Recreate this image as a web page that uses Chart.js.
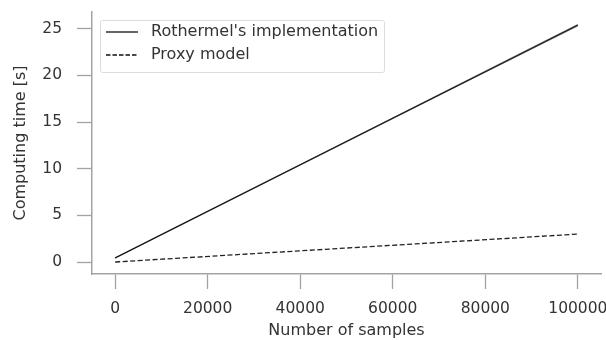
<!DOCTYPE html>
<html>
<head>
<meta charset="utf-8">
<script src="https://cdn.jsdelivr.net/npm/chart.js@4.4.1/dist/chart.umd.min.js"></script>
<style>
  html, body { margin: 0; padding: 0; background: #fff; }
  #wrap { width: 606px; height: 340px; }
</style>
</head>
<body>
<div id="wrap"><canvas id="c" width="606" height="340"></canvas></div>
<script>
// Timing benchmark: runtime vs. number of samples
const samples        = [10, 100, 1000, 10000, 100000];
const rothermelTime  = [0.45, 0.47, 0.70, 2.95, 25.40];
const rothermelLow   = [0.45, 0.47, 0.70, 2.95, 25.25];
const rothermelHigh  = [0.45, 0.47, 0.70, 2.95, 25.55];
const proxyTime      = [0.01, 0.01, 0.04, 0.31, 3.00];
const seriesNames    = ["Rothermel's implementation", "Proxy model"];
const yTicks         = [0, 5, 10, 15, 20, 25];
const xTicks         = [0, 20000, 40000, 60000, 80000, 100000];

const FONT = "'DejaVu Sans', sans-serif";
const AXIS = '#a3a3a3';
const TEXT = '#333333';

const pts = (ys) => samples.map((x, i) => ({ x, y: ys[i] }));

// Legend drawn inside the plot area, top-left, with a light frame
const innerLegend = {
  id: 'innerLegend',
  afterDraw(chart) {
    const ctx = chart.ctx;
    const a = chart.chartArea;
    const x0 = a.left + 8, y0 = a.top + 8, w = 284, h = 52;
    ctx.save();
    ctx.fillStyle = 'rgba(255,255,255,0.85)';
    ctx.strokeStyle = '#dcdcdc';
    ctx.lineWidth = 1;
    ctx.beginPath();
    ctx.roundRect(x0 + 0.5, y0 + 0.5, w, h, 2);
    ctx.fill();
    ctx.stroke();
    const rows = [
      { label: seriesNames[0], dash: [] },
      { label: seriesNames[1], dash: [4.5, 2] }
    ];
    ctx.font = '16px ' + FONT;
    ctx.textBaseline = 'middle';
    rows.forEach((r, i) => {
      const cy = y0 + 12 + i * 23;
      ctx.strokeStyle = '#111';
      ctx.lineWidth = 1.3;
      ctx.setLineDash(r.dash);
      ctx.beginPath();
      ctx.moveTo(x0 + 6, cy);
      ctx.lineTo(x0 + 38, cy);
      ctx.stroke();
      ctx.setLineDash([]);
      ctx.fillStyle = TEXT;
      ctx.fillText(r.label, x0 + 51, cy);
    });
    ctx.restore();
  }
};

new Chart(document.getElementById('c'), {
  type: 'line',
  data: {
    datasets: [
      {
        label: 'ci-low',
        data: pts(rothermelLow),
        borderWidth: 0,
        pointRadius: 0,
        fill: false
      },
      {
        label: 'ci-high',
        data: pts(rothermelHigh),
        borderWidth: 0,
        pointRadius: 0,
        backgroundColor: 'rgba(60,60,60,0.45)',
        fill: '-1'
      },
      {
        label: seriesNames[0],
        data: pts(rothermelTime),
        borderColor: '#111',
        borderWidth: 1.3,
        pointRadius: 0,
        tension: 0,
        fill: false
      },
      {
        label: seriesNames[1],
        data: pts(proxyTime),
        borderColor: '#222',
        borderWidth: 1.3,
        borderDash: [5, 2.5],
        pointRadius: 0,
        tension: 0,
        fill: false
      }
    ]
  },
  options: {
    responsive: false,
    animation: false,
    layout: { padding: { top: 12, right: 5, left: 0, bottom: 0 } },
    plugins: { legend: { display: false }, tooltip: { enabled: false } },
    scales: {
      x: {
        type: 'linear',
        min: -5000,
        max: 105000,
        afterBuildTicks(s) { s.ticks = xTicks.map(v => ({ value: v })); },
        afterFit(s) { s.height = 66; s.paddingLeft = 0; s.paddingRight = 0; },
        grid: { drawOnChartArea: false, drawTicks: true, tickLength: 15, tickColor: AXIS, tickWidth: 1.3 },
        border: { color: AXIS, width: 1.5 },
        ticks: { color: TEXT, font: { family: FONT, size: 15.5 }, padding: 11, maxRotation: 0, callback: v => String(v) },
        title: { display: true, text: 'Number of samples', color: TEXT, font: { family: FONT, size: 16 }, padding: { top: 0, bottom: 0 } }
      },
      y: {
        type: 'linear',
        min: -1.275,
        max: 26.8,
        afterBuildTicks(s) { s.ticks = yTicks.map(v => ({ value: v })); },
        afterFit(s) { s.width = 92; s.paddingTop = 0; s.paddingBottom = 0; },
        grid: { drawOnChartArea: false, drawTicks: true, tickLength: 15, tickColor: AXIS, tickWidth: 1.3 },
        border: { color: AXIS, width: 1.5 },
        ticks: { color: TEXT, font: { family: FONT, size: 15.5 }, padding: 15, callback: v => String(v) },
        title: { display: true, text: 'Computing time [s]', color: TEXT, font: { family: FONT, size: 16 }, padding: { top: 11, bottom: 0 } }
      }
    }
  },
  plugins: [innerLegend]
});
</script>
</body>
</html>
